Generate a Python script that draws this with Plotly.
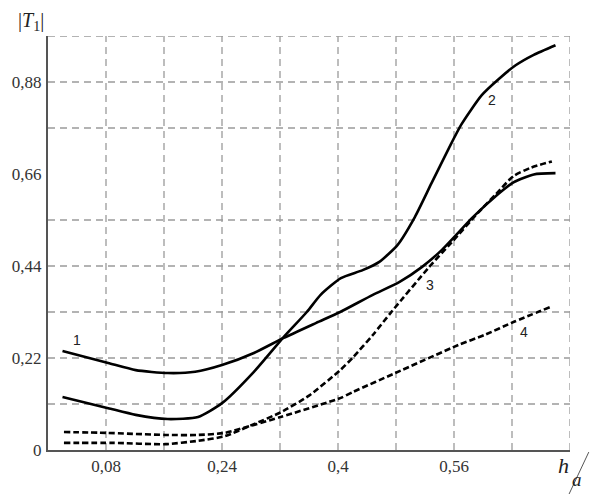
import plotly.graph_objects as go

# Curve data (x = h/a, y = |T1|)
x1 = [0.020, 0.083, 0.121, 0.165, 0.203, 0.240, 0.284, 0.325, 0.370, 0.403, 0.448, 0.485, 0.516, 0.543, 0.566, 0.585, 0.621, 0.642, 0.670, 0.700]
y1 = [0.237, 0.208, 0.191, 0.184, 0.187, 0.203, 0.232, 0.268, 0.304, 0.330, 0.371, 0.402, 0.438, 0.478, 0.520, 0.555, 0.612, 0.640, 0.659, 0.662]

x2 = [0.020, 0.083, 0.121, 0.165, 0.207, 0.240, 0.284, 0.325, 0.357, 0.376, 0.404, 0.434, 0.457, 0.482, 0.506, 0.529, 0.553, 0.570, 0.598, 0.621, 0.645, 0.670, 0.700]
y2 = [0.127, 0.100, 0.084, 0.074, 0.079, 0.112, 0.187, 0.270, 0.330, 0.371, 0.411, 0.430, 0.450, 0.490, 0.557, 0.638, 0.722, 0.778, 0.848, 0.886, 0.920, 0.945, 0.968]

x3 = [0.022, 0.090, 0.162, 0.207, 0.244, 0.284, 0.321, 0.360, 0.403, 0.421, 0.448, 0.475, 0.525, 0.557, 0.593, 0.618, 0.642, 0.666, 0.695]
y3 = [0.017, 0.017, 0.014, 0.022, 0.033, 0.062, 0.090, 0.130, 0.191, 0.222, 0.275, 0.333, 0.436, 0.497, 0.567, 0.612, 0.655, 0.675, 0.690]

x4 = [0.022, 0.080, 0.162, 0.207, 0.244, 0.284, 0.321, 0.403, 0.421, 0.479, 0.566, 0.602, 0.642, 0.693]
y4 = [0.043, 0.041, 0.036, 0.036, 0.041, 0.060, 0.079, 0.124, 0.139, 0.184, 0.251, 0.275, 0.306, 0.342]

curve_labels = ["1", "2", "3", "4"]
label_x = [0.040, 0.613, 0.527, 0.656]
label_y = [0.262, 0.837, 0.395, 0.282]

x_tick_vals = [0.08, 0.24, 0.4, 0.56]
x_tick_text = ["0,08", "0,24", "0,4", "0,56"]
y_tick_vals = [0, 0.22, 0.44, 0.66, 0.88]
y_tick_text = ["0", "0,22", "0,44", "0,66", "0,88"]

x_grid = [0.08, 0.16, 0.24, 0.32, 0.40, 0.48, 0.56, 0.64, 0.72]
y_grid = [0.11, 0.22, 0.33, 0.44, 0.55, 0.77, 0.88, 0.99]

SERIF = "Liberation Serif, Times New Roman, serif"

fig = go.Figure()

solid = dict(color="black", width=2.6, shape="spline", smoothing=0.6)
dashed = dict(color="black", width=2.6, dash="6px,3px", shape="spline", smoothing=0.6)

fig.add_trace(go.Scatter(x=x1, y=y1, mode="lines", line=solid, showlegend=False))
fig.add_trace(go.Scatter(x=x2, y=y2, mode="lines", line=solid, showlegend=False))
fig.add_trace(go.Scatter(x=x3, y=y3, mode="lines", line=dashed, showlegend=False))
fig.add_trace(go.Scatter(x=x4, y=y4, mode="lines", line=dashed, showlegend=False))

shapes = []
for gx in x_grid:
    shapes.append(dict(type="line", xref="x", yref="y", x0=gx, x1=gx, y0=0, y1=0.99,
                       line=dict(color="#9a9a9a", width=1.3, dash="7px,5px"), layer="below"))
for gy in y_grid:
    shapes.append(dict(type="line", xref="x", yref="y", x0=0, x1=0.72, y0=gy, y1=gy,
                       line=dict(color="#9a9a9a", width=1.3, dash="7px,5px"), layer="below"))
# h/a slash
shapes.append(dict(type="line", xref="paper", yref="paper",
                   x0=1.036, y0=-0.005, x1=0.995, y1=-0.115,
                   line=dict(color="#555", width=1)))
fig.update_layout(shapes=shapes)

annotations = []
for t, lx, ly in zip(curve_labels, label_x, label_y):
    annotations.append(dict(x=lx, y=ly, xref="x", yref="y", text=t, showarrow=False,
                            font=dict(family="Liberation Sans", size=14, color="#222")))
annotations.append(dict(x=-0.032, y=1.0, xref="paper", yref="paper", xanchor="center", yanchor="bottom",
                        text="|<i>T</i><sub>1</sub>|", showarrow=False,
                        font=dict(family=SERIF, size=20, color="#222")))
annotations.append(dict(x=0.987, y=-0.038, xref="paper", yref="paper",
                        xanchor="center", yanchor="middle",
                        text="<i>h</i>", showarrow=False,
                        font=dict(family=SERIF, size=22, color="#222")))
annotations.append(dict(x=1.014, y=-0.072, xref="paper", yref="paper",
                        xanchor="center", yanchor="middle", borderpad=0,
                        text="<i>a</i>", showarrow=False,
                        font=dict(family=SERIF, size=19, color="#222")))
fig.update_layout(annotations=annotations)

fig.update_layout(
    width=590, height=494,
    margin=dict(l=41, r=20, t=36, b=44),
    font=dict(family=SERIF, size=17, color="#333"),
    paper_bgcolor="white", plot_bgcolor="white",
    xaxis=dict(range=[0, 0.72], showgrid=False, zeroline=False,
               showline=True, linecolor="#555", linewidth=2,
               tickvals=x_tick_vals, ticktext=x_tick_text, ticks="",
               tickfont=dict(family=SERIF, size=17, color="#333")),
    yaxis=dict(range=[0, 0.99], showgrid=False, zeroline=False,
               showline=True, linecolor="#555", linewidth=2,
               tickvals=y_tick_vals, ticktext=y_tick_text, ticks="",
               ticklabelstandoff=1,
               tickfont=dict(family=SERIF, size=17, color="#333")),
)

fig.write_html("out.html")
